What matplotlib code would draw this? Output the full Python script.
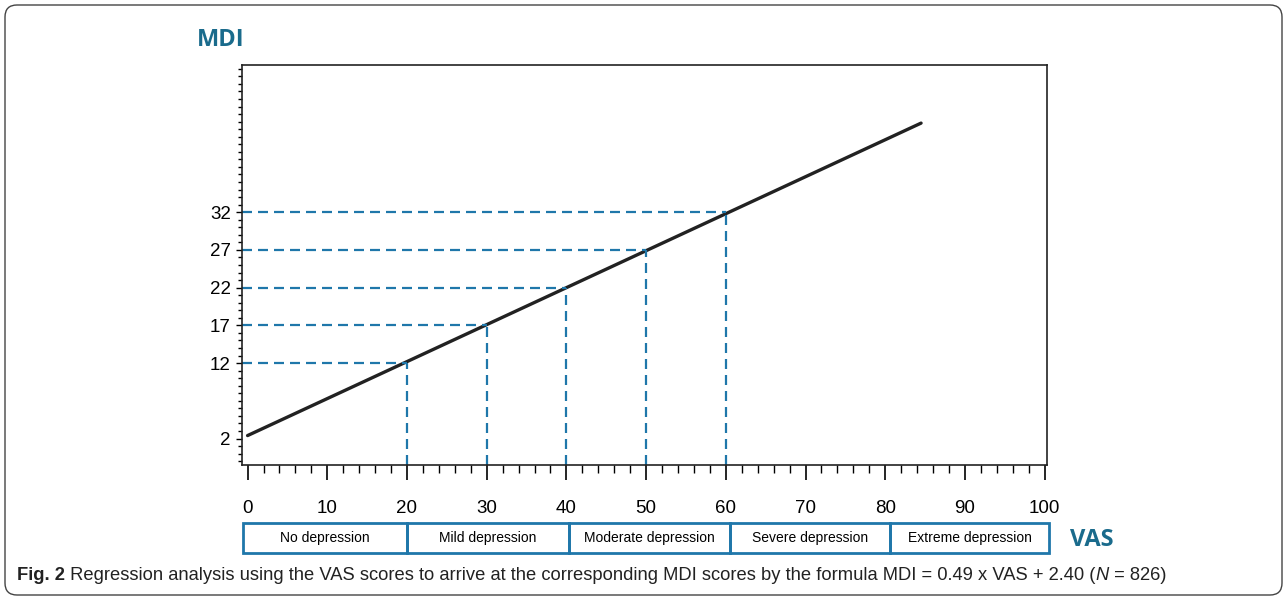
import matplotlib.pyplot as plt
import matplotlib.patches as mpatches
import matplotlib.transforms as mtransforms
from matplotlib.ticker import MultipleLocator, FixedLocator

# data
line_vas = [0, 84.5]
line_mdi = [2.4, 43.8]
vas_cut = [20, 30, 40, 50, 60]
mdi_cut = [12, 17, 22, 27, 32]
mdi_labels = [2, 12, 17, 22, 27, 32]
vas_ticks = [0, 10, 20, 30, 40, 50, 60, 70, 80, 90, 100]
categories = ["No depression", "Mild depression", "Moderate depression",
              "Severe depression", "Extreme depression"]
cat_edges = [-0.6, 20, 40.3, 60.5, 80.6, 100.6]

blue = "#1f77aa"
teal = "#1a6b8c"
plt.rcParams['font.family'] = ['Liberation Sans', 'DejaVu Sans']

fig = plt.figure(figsize=(12.87, 6.0), dpi=100)
ax = fig.add_axes([242 / 1287, 135 / 600, 805 / 1287, 400 / 600])
ax.set_xlim(-0.7, 100.3)
ax.set_ylim(-1.5, 51.5)

ax.plot(line_vas, line_mdi, color='#222222', lw=2.4, solid_capstyle='round')

for v, m in zip(vas_cut, mdi_cut):
    ax.plot([-0.7, v], [m, m], color=blue, lw=1.6, dashes=(4.5, 2.7))
    ax.plot([v, v], [-1.5, m], color=blue, lw=1.6, dashes=(4.5, 2.7))

for s in ax.spines.values():
    s.set_linewidth(1.2)
    s.set_color('#222222')

ax.xaxis.set_major_locator(FixedLocator(vas_ticks))
ax.xaxis.set_minor_locator(MultipleLocator(2))
ax.yaxis.set_major_locator(FixedLocator(mdi_labels))
ax.yaxis.set_minor_locator(MultipleLocator(1))
ax.tick_params(axis='x', which='major', length=11, width=1.2, pad=14, labelsize=13.5)
ax.tick_params(axis='x', which='minor', length=6, width=1.0)
ax.tick_params(axis='y', which='major', length=4, width=1.0, pad=4, labelsize=13.5)
ax.tick_params(axis='y', which='minor', length=3, width=1.0)

# category boxes under the x axis
cax = fig.add_axes([242 / 1287, 47 / 600, 805 / 1287, 30 / 600])
cax.set_xlim(-0.7, 100.3)
cax.set_ylim(0, 1)
cax.axis('off')
for i, name in enumerate(categories):
    x0, x1 = cat_edges[i], cat_edges[i + 1]
    cax.add_patch(mpatches.Rectangle((x0, 0), x1 - x0, 1, fill=False,
                                     edgecolor=blue, lw=2.0, clip_on=False))
    cax.text((x0 + x1) / 2, 0.5, name, ha='center', va='center', fontsize=10)

fig.text(1070 / 1287, 1 - 540 / 600, "VAS", color=teal, fontsize=17,
         fontweight='bold', family=['Open Sans', 'DejaVu Sans'], va='center')
fig.text(197 / 1287, 1 - 40 / 600, "MDI", color=teal, fontsize=17,
         fontweight='bold', family=['Open Sans', 'DejaVu Sans'], va='center')

# caption, pieced together: bold label, plain text, italic N
r = fig.canvas.get_renderer()
cap_y = 1 - 576 / 600
pieces = [("Fig. 2", 'bold', 'normal'),
          (" Regression analysis using the VAS scores to arrive at the corresponding MDI scores "
           "by the formula MDI = 0.49 x VAS + 2.40 (", 'normal', 'normal'),
          ("N", 'normal', 'italic'),
          (" = 826)", 'normal', 'normal')]
x = 17
for txt, w, st in pieces:
    t = fig.text(x / 1287, cap_y, txt, fontsize=13.2, fontweight=w, style=st,
                 color='#222222', va='center')
    x = t.get_window_extent(renderer=r).x1

# outer rounded border
border = mpatches.FancyBboxPatch((5, 5), 1277, 590,
                                 boxstyle="round,pad=0,rounding_size=12",
                                 fill=False, edgecolor='#444444', lw=1.0,
                                 transform=mtransforms.IdentityTransform())
fig.patches.append(border)

fig.savefig("out.png", dpi=100)
